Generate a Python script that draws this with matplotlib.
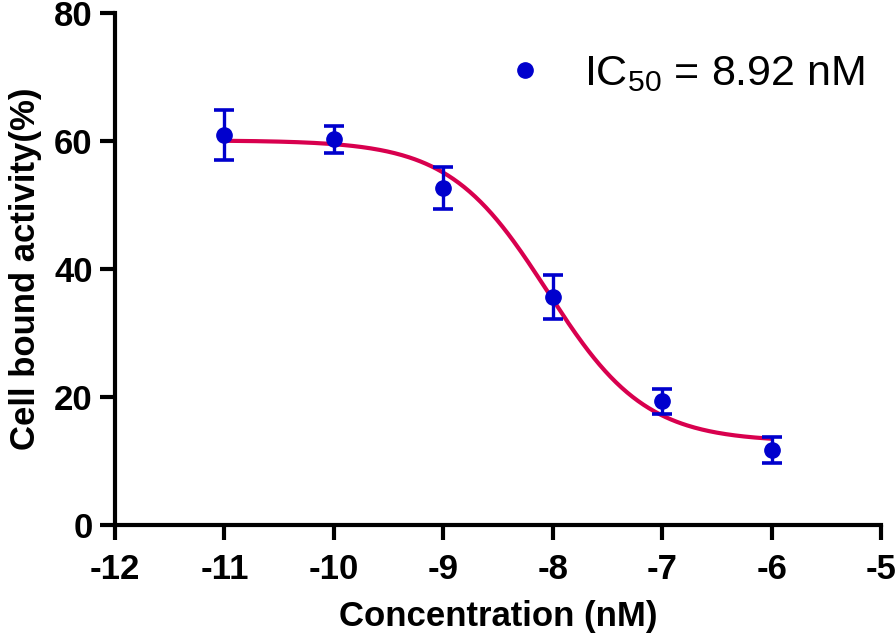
import numpy as np
import matplotlib
matplotlib.use('Agg')
import matplotlib.pyplot as plt
from matplotlib.lines import Line2D

# log concentration (M) vs. cell bound activity (%)
log_conc = [-11, -10, -9, -8, -7, -6]
activity = [60.9, 60.3, 52.7, 35.6, 19.3, 11.7]
sem = [3.9, 2.1, 3.3, 3.4, 2.0, 2.0]

# four-parameter logistic fit
top, bottom, log_ic50, hill = 60.1, 13.0, -8.05, 0.97
ic50_label = r'IC$_{50}$ = 8.92 nM'

plt.rcParams['font.family'] = ['Liberation Sans', 'DejaVu Sans']
plt.rcParams['mathtext.fontset'] = 'custom'
plt.rcParams['mathtext.rm'] = 'Liberation Sans'
plt.rcParams['mathtext.it'] = 'Liberation Sans'
plt.rcParams['mathtext.default'] = 'regular'
plt.rcParams['axes.unicode_minus'] = False

blue = '#0000CD'
red = '#D8004E'

fig = plt.figure(figsize=(8.96, 6.37), dpi=100)
ax = fig.add_axes([0.1283, 0.1758, 0.855, 0.8038])

xs = np.linspace(min(log_conc), max(log_conc), 300)
fit = bottom + (top - bottom) / (1 + 10 ** ((xs - log_ic50) * hill))
ax.plot(xs, fit, color=red, lw=3, zorder=2)

ax.errorbar(log_conc, activity, yerr=sem, fmt='o', color=blue, ms=11,
            elinewidth=2.4, capsize=7, capthick=2.6, zorder=3)

handle = Line2D([], [], marker='o', ls='none', color=blue, ms=11)
ax.legend([handle], [ic50_label], loc='upper right', bbox_to_anchor=(1.012, 0.97),
          frameon=False, fontsize=31, handletextpad=0.35, borderaxespad=0.2)

ax.set_xlim(-12, -5)
ax.set_ylim(0, 80)
ax.set_xticks(range(-12, -4))
ax.set_yticks([0, 20, 40, 60, 80])

for side in ['top', 'right']:
    ax.spines[side].set_visible(False)
for side in ['left', 'bottom']:
    ax.spines[side].set_linewidth(3)
    ax.spines[side].set_capstyle('projecting')
ax.tick_params(width=3, length=11, labelsize=25, pad=5)
ax.tick_params(axis='x', pad=9)
for lab in ax.get_xticklabels() + ax.get_yticklabels():
    lab.set_fontweight('bold')

ax.set_xlabel('Concentration (nM)', fontsize=25, fontweight='bold', labelpad=10)
ax.set_ylabel('Cell bound activity(%)', fontsize=25, fontweight='bold', labelpad=9)

fig.savefig('out.png', dpi=100)
